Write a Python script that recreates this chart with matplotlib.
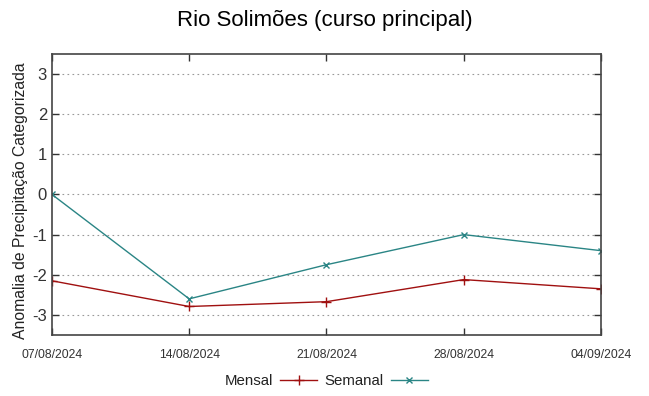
import datetime as dt
import matplotlib
matplotlib.use("Agg")
import matplotlib.pyplot as plt

plt.rcParams['font.family'] = ['Liberation Sans', 'DejaVu Sans']
plt.rcParams['axes.unicode_minus'] = False

datas = ['07/08/2024', '14/08/2024', '21/08/2024', '28/08/2024', '04/09/2024']
mensal = [-2.15, -2.79, -2.67, -2.12, -2.35]
semanal = [0.0, -2.60, -1.75, -1.00, -1.40]
yticks = [-3, -2, -1, 0, 1, 2, 3]

x = [dt.datetime.strptime(d, '%d/%m/%Y') for d in datas]

fig = plt.figure(figsize=(6.49, 3.96), dpi=100)
ax = fig.add_axes([0.080, 0.154, 0.846, 0.710])

ax.plot(x, mensal, color='#a01010', lw=1.0, marker='+', ms=7, mew=1.0, label='Mensal')
ax.plot(x, semanal, color='#2a8585', lw=1.0, marker='x', ms=5, mew=1.0, label='Semanal')

ax.set_xlim(x[0], x[-1])
ax.set_ylim(-3.5, 3.5)
ax.set_xticks(x)
ax.set_xticklabels(datas, fontsize=8.8, color='#333333')
ax.set_yticks(yticks)
ax.tick_params(axis='y', labelsize=12, labelcolor='#333333')
ax.tick_params(direction='in', top=True, right=True, length=5, width=1, color='#333333')
ax.tick_params(axis='x', pad=10)
ax.grid(axis='y', linestyle=(0, (1.5, 3)), color='#999999', lw=0.8)
for s in ax.spines.values():
    s.set_color('#444444')
    s.set_linewidth(1.2)

ax.set_ylabel('Anomalia de Precipitação Categorizada', fontsize=11.3, color='#222222')
ax.yaxis.set_label_coords(-0.044, 0.477)
fig.suptitle('Rio Solimões (curso principal)', fontsize=16, y=0.975)

leg = fig.legend(loc='center', bbox_to_anchor=(0.503, 0.037), ncol=2, frameon=False,
                 markerfirst=False, fontsize=10.8, handlelength=2.5, columnspacing=0.5,
                 handletextpad=0.45)
for t in leg.get_texts():
    t.set_color('#222222')

fig.savefig('out.png', dpi=100)
